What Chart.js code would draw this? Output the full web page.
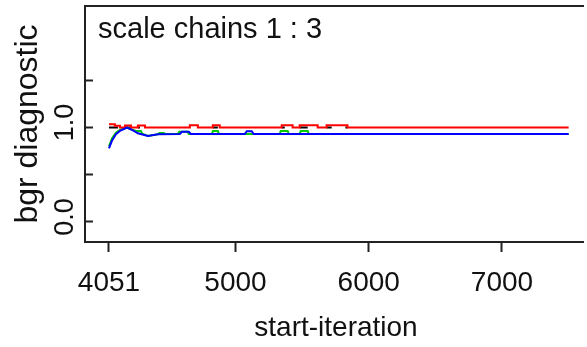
<!DOCTYPE html>
<html>
<head>
  <title>bgr diagnostic</title>
  <style>
    body {
      margin: 0;
      padding: 0;
      background-color: white;
    }

    #chart-box {
      position: relative;
      width: 587px;
      height: 347px;
    }
  </style>
</head>
<body>
  <div id="chart-box">
    <canvas id="bgr-chart"></canvas>
  </div>

  <script src="https://cdn.jsdelivr.net/npm/chart.js"></script>
  <script>
    // Brooks-Gelman-Rubin diagnostic, chains 1 to 3
    const xTickValues = [4051, 5000, 6000, 7000];
    const yTickValues = [0, 0.5, 1, 1.5];
    const yTickLabels = ["0.0", "", "1.0", ""];

    // red: ratio of pooled to within-chain width
    const redIter = [4051, 4095, 4133, 4171, 4216, 4268, 4321, 4658, 4718, 4830, 4882, 5347, 5429, 5482, 5617, 5684, 5841, 7500];
    const redValues = [1.035, 1.02, 1.0, 1.022, 1.0, 1.022, 1.0, 1.025, 1.0, 1.025, 1.0, 1.025, 1.0, 1.025, 1.0, 1.025, 1.0, 1.0];

    // black trace: only the pieces not covered by the red one (null = gap)
    const blackIter = [4051, 4118, 4119, 4171, 4216, 4217, 4268, 4283, 4284, 4830, 4868, 4869, 5347, 5370, 5371, 5482, 5542, 5543, 5684, 5722, 5723, 5825, 5841];
    const blackValues = [1.0, 1.0, null, 1.0, 1.0, null, 1.0, 1.0, null, 1.0, 1.0, null, 1.0, 1.0, null, 1.0, 1.0, null, 1.0, 1.0, null, 1.0, 1.0];

    // green: pooled interval width (normalised)
    const greenIter = [4051, 4073, 4103, 4133, 4186, 4231, 4253, 4290, 4300, 4343, 4418, 4428, 4463, 4473, 4568, 4578, 4640, 4650, 4823, 4831, 4868, 4876, 5332, 5340, 5392, 5400, 5482, 5490, 5542, 5550, 7500];
    const greenValues = [0.80, 0.885, 0.945, 0.975, 1.0, 0.975, 0.964, 0.964, 0.935, 0.912, 0.93, 0.942, 0.942, 0.932, 0.932, 0.955, 0.955, 0.932, 0.932, 0.964, 0.964, 0.932, 0.932, 0.964, 0.964, 0.932, 0.932, 0.964, 0.964, 0.932, 0.932];

    // blue: average within-chain interval width (normalised)
    const blueIter = [4051, 4073, 4103, 4133, 4186, 4231, 4268, 4343, 4418, 4583, 4598, 4650, 4665, 5070, 5085, 5122, 5137, 7500];
    const blueValues = [0.78, 0.86, 0.93, 0.965, 1.0, 0.97, 0.94, 0.91, 0.93, 0.932, 0.955, 0.955, 0.932, 0.932, 0.962, 0.962, 0.932, 0.932];

    const legendText = "scale chains 1 : 3";
    const fontFamily = "'Liberation Sans', Arial, sans-serif";
    const inkColor = "#111";

    function toPoints(xs, ys) {
      return xs.map((x, i) => ({ x: x, y: ys[i] }));
    }

    // frame (left, top, bottom; the right side runs off the canvas) and the chain label
    const framePlugin = {
      id: "frame",
      afterDraw(chart) {
        const { ctx, chartArea } = chart;
        const { left, top, right, bottom } = chartArea;
        ctx.save();
        ctx.strokeStyle = "#222";
        ctx.lineWidth = 2;
        ctx.lineCap = "butt";
        ctx.beginPath();
        ctx.moveTo(right - 3, top);
        ctx.lineTo(left, top);
        ctx.lineTo(left, bottom);
        ctx.lineTo(right - 3, bottom);
        ctx.stroke();
        ctx.fillStyle = inkColor;
        ctx.font = "29px " + fontFamily;
        ctx.textBaseline = "alphabetic";
        ctx.textAlign = "left";
        ctx.fillText(legendText, left + 13, top + 32);
        ctx.restore();
      }
    };

    // keep the plot region fixed: no extra room for overhanging tick labels
    function noPadding(scale) {
      scale.paddingTop = 0;
      scale.paddingBottom = 0;
      scale.paddingLeft = 0;
      scale.paddingRight = 0;
    }

    const ctx = document.getElementById("bgr-chart").getContext("2d");
    new Chart(ctx, {
      type: "line",
      data: {
        datasets: [
          { data: toPoints(blueIter, blueValues), borderColor: "#0000ff" },
          { data: toPoints(redIter, redValues), borderColor: "#ff0000", stepped: true },
          { data: toPoints(greenIter, greenValues), borderColor: "#00c800" },
          { data: toPoints(blackIter, blackValues), borderColor: "#000000", spanGaps: false }
        ]
      },
      options: {
        responsive: true,
        maintainAspectRatio: false,
        animation: false,
        layout: { padding: { top: 6, right: 0, bottom: 0, left: 0 } },
        elements: {
          point: { radius: 0 },
          line: { borderWidth: 2, tension: 0 }
        },
        plugins: {
          legend: { display: false },
          tooltip: { enabled: false }
        },
        scales: {
          x: {
            type: "linear",
            position: "bottom",
            min: 3871,
            max: 7638,
            afterBuildTicks: (scale) => {
              scale.ticks = xTickValues.map(v => ({ value: v }));
            },
            afterFit: (scale) => {
              scale.height = 105;
              noPadding(scale);
            },
            grid: {
              drawOnChartArea: false,
              drawTicks: true,
              tickLength: 10,
              tickWidth: 2,
              tickColor: "#222"
            },
            border: { display: false },
            ticks: {
              autoSkip: false,
              maxRotation: 0,
              padding: 14,
              color: inkColor,
              font: { family: fontFamily, size: 28 },
              callback: (value) => String(value)
            },
            title: {
              display: true,
              text: "start-iteration",
              color: inkColor,
              font: { family: fontFamily, size: 28 },
              padding: { top: 0, bottom: 2 }
            }
          },
          y: {
            type: "linear",
            min: -0.212,
            max: 2.288,
            afterBuildTicks: (scale) => {
              scale.ticks = yTickValues.map(v => ({ value: v }));
            },
            afterFit: (scale) => {
              scale.width = 85;
              noPadding(scale);
            },
            grid: {
              drawOnChartArea: false,
              drawTicks: true,
              tickLength: -8,
              tickWidth: 2,
              tickColor: "#222"
            },
            border: { display: false },
            ticks: {
              minRotation: 90,
              maxRotation: 90,
              crossAlign: "center",
              padding: 9,
              labelOffset: -5,
              color: inkColor,
              font: { family: fontFamily, size: 27 },
              callback: (value, index) => yTickLabels[index]
            },
            title: {
              display: true,
              text: "bgr diagnostic",
              color: inkColor,
              font: { family: fontFamily, size: 32 },
              padding: { top: 9, bottom: 0 }
            }
          }
        }
      },
      plugins: [framePlugin]
    });
  </script>
</body>
</html>
